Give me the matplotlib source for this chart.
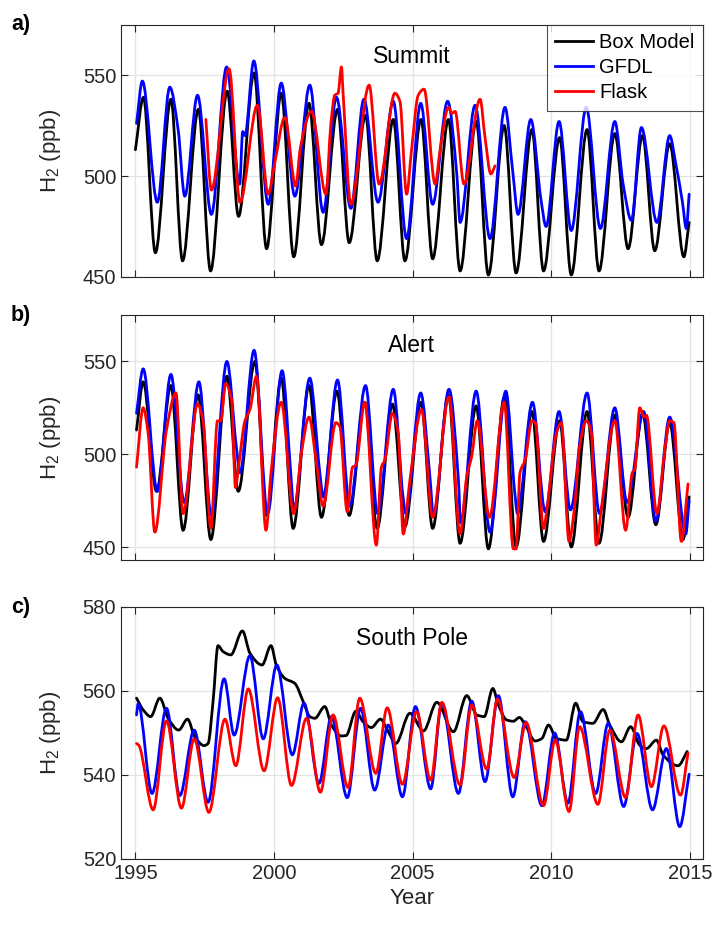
import matplotlib
matplotlib.use("Agg")
import matplotlib.pyplot as plt
from matplotlib.path import Path
from matplotlib.patches import PathPatch
from matplotlib.lines import Line2D
import numpy as np

plt.rcParams['font.family'] = ['Liberation Sans', 'DejaVu Sans']
plt.rcParams['mathtext.default'] = 'regular'

# ---------------- Summit ----------------
box_a_t = [1995.00, 1995.29, 1995.72, 1996.28, 1996.70, 1997.27, 1997.71, 1998.31, 1998.72, 1999.28,
           1999.73, 2000.26, 2000.71, 2001.26, 2001.71, 2002.29, 2002.71, 2003.30, 2003.72, 2004.30,
           2004.72, 2005.30, 2005.72, 2006.29, 2006.71, 2007.29, 2007.73, 2008.30, 2008.73, 2009.30,
           2009.72, 2010.30, 2010.72, 2011.29, 2011.72, 2012.29, 2012.77, 2013.29, 2013.73, 2014.27,
           2014.78, 2014.97]
box_a_v = [513, 539, 462, 538, 458, 533, 453, 542, 480, 551,
           464, 541, 460, 536, 466, 533, 467, 530, 458, 528,
           458, 528, 459, 528, 453, 527, 451, 525, 452, 523,
           453, 519, 451, 523, 453, 521, 464, 520, 463, 516,
           460, 477]

gfdl_a_t = [1995.04, 1995.25, 1995.79, 1996.24, 1996.54, 1996.78, 1997.24, 1997.74, 1998.29, 1998.76,
            1998.87, 1998.95, 1999.27, 1999.79, 2000.26, 2000.75, 2001.29, 2001.77, 2002.25, 2002.77,
            2003.24, 2003.75, 2004.30, 2004.78, 2005.29, 2005.72, 2006.26, 2006.59, 2006.71, 2007.25,
            2007.79, 2008.33, 2008.61, 2008.80, 2009.26, 2009.63, 2009.81, 2010.28, 2010.72, 2011.26,
            2011.77, 2012.29, 2012.59, 2012.89, 2013.25, 2013.81, 2014.27, 2014.49, 2014.73, 2014.87,
            2014.97]
gfdl_a_v = [526, 547, 487, 544, 523, 490, 540, 481, 554, 496,
            522, 520, 557, 486, 546, 490, 545, 482, 539, 484,
            538, 487, 537, 469, 536, 486, 537, 501, 477, 535,
            469, 534, 502, 481, 528, 488, 475, 527, 473, 534,
            474, 527, 496, 478, 524, 477, 520, 506, 487, 474,
            491]

flask_a_t = [1997.54, 1997.74, 1998.38, 1998.77, 1999.40, 1999.79, 2000.02, 2000.39, 2000.78, 2000.95,
             2001.35, 2001.87, 2002.05, 2002.19, 2002.31, 2002.43, 2002.49, 2002.77, 2003.43, 2003.79,
             2004.36, 2004.54, 2004.78, 2004.96, 2005.20, 2005.41, 2005.81, 2005.99, 2006.29, 2006.41,
             2006.53, 2006.85, 2007.43, 2007.61, 2007.82, 2007.97]
flask_a_v = [528, 493, 553, 487, 535, 491, 506, 529, 495, 514,
             532, 491, 526, 540, 541, 554, 541, 486, 545, 496,
             541, 537, 491, 513, 540, 543, 496, 513, 534, 531,
             532, 496, 538, 519, 501, 505]

# ---------------- Alert ----------------
box_b_t = [1995.04, 1995.28, 1995.76, 1996.28, 1996.72, 1997.26, 1997.72, 1998.30, 1998.71, 1999.31,
           1999.73, 2000.26, 2000.69, 2001.26, 2001.71, 2002.27, 2002.71, 2003.27, 2003.72, 2004.27,
           2004.72, 2005.30, 2005.72, 2006.29, 2006.71, 2007.29, 2007.73, 2008.31, 2008.73, 2009.30,
           2009.72, 2010.30, 2010.72, 2011.29, 2011.72, 2012.29, 2012.77, 2013.29, 2013.77, 2014.27,
           2014.75, 2014.97]
box_b_v = [513, 539, 480, 537, 459, 532, 454, 542, 480, 550,
           467, 541, 460, 537, 466, 534, 467, 528, 460, 527,
           461, 528, 460, 532, 452, 526, 449, 531, 450, 523,
           453, 518, 450, 523, 452, 521, 466, 522, 462, 517,
           454, 477]

gfdl_b_t = [1995.04, 1995.28, 1995.79, 1996.28, 1996.76, 1997.29, 1997.74, 1998.30, 1998.64, 1998.77,
            1999.28, 1999.77, 2000.29, 2000.62, 2000.71, 2001.29, 2001.65, 2001.77, 2002.29, 2002.73,
            2003.30, 2003.74, 2004.30, 2004.66, 2004.75, 2005.29, 2005.62, 2005.75, 2006.31, 2006.65,
            2006.73, 2007.29, 2007.79, 2008.36, 2008.69, 2008.78, 2009.32, 2009.78, 2010.28, 2010.69,
            2011.29, 2011.74, 2012.29, 2012.73, 2013.33, 2013.77, 2014.27, 2014.85, 2014.97]
gfdl_b_v = [522, 546, 480, 543, 474, 539, 467, 550, 504, 490,
            556, 468, 545, 486, 470, 541, 490, 477, 540, 472,
            537, 468, 535, 476, 468, 533, 488, 467, 535, 486,
            463, 534, 458, 534, 478, 468, 528, 469, 523, 470,
            533, 468, 525, 474, 523, 464, 520, 457, 475]

flask_b_t = [1995.04, 1995.28, 1995.46, 1995.70, 1996.12, 1996.46, 1996.72, 1997.24, 1997.44, 1997.72,
             1997.96, 1998.08, 1998.25, 1998.47, 1998.61, 1998.71, 1998.95, 1999.13, 1999.37, 1999.71,
             1999.89, 2000.26, 2000.71, 2000.99, 2001.26, 2001.53, 2001.77, 2002.23, 2002.37, 2002.64,
             2002.83, 2002.95, 2003.27, 2003.69, 2003.87, 2004.00, 2004.27, 2004.48, 2004.66, 2004.90,
             2005.32, 2005.72, 2006.31, 2006.71, 2006.95, 2007.13, 2007.33, 2007.77, 2008.30, 2008.63,
             2008.73, 2008.87, 2009.06, 2009.30, 2009.42, 2009.72, 2009.84, 2010.18, 2010.36, 2010.64,
             2010.84, 2011.02, 2011.26, 2011.44, 2011.62, 2011.80, 2012.29, 2012.68, 2012.92, 2013.01,
             2013.19, 2013.35, 2013.43, 2013.81, 2014.09, 2014.27, 2014.42, 2014.69, 2014.93]
flask_b_v = [493, 525, 511, 458, 513, 533, 468, 527, 518, 460,
             518, 518, 538, 529, 482, 492, 518, 524, 542, 459,
             490, 528, 468, 501, 520, 495, 472, 517, 515, 469,
             493, 494, 528, 451, 493, 497, 522, 511, 457, 486,
             524, 466, 531, 457, 488, 499, 518, 466, 528, 449,
             449, 490, 497, 518, 517, 460, 470, 511, 517, 453,
             472, 504, 518, 512, 451, 470, 518, 459, 490, 492,
             525, 520, 521, 468, 502, 518, 517, 453, 484]

# ---------------- South Pole ----------------
box_c_t = [1995.04, 1995.28, 1995.55, 1995.88, 1996.18, 1996.56, 1996.88, 1997.14, 1997.48, 1997.62,
           1997.80, 1997.98, 1998.16, 1998.44, 1998.86, 1999.13, 1999.57, 1999.89, 2000.08, 2000.39,
           2000.75, 2001.05, 2001.29, 2001.47, 2001.83, 2002.07, 2002.43, 2002.60, 2002.95, 2003.21,
           2003.51, 2003.84, 2004.12, 2004.39, 2004.90, 2005.39, 2005.87, 2006.47, 2006.95, 2007.31,
           2007.58, 2007.89, 2008.09, 2008.39, 2008.63, 2008.85, 2009.06, 2009.42, 2009.66, 2009.90,
           2010.18, 2010.54, 2010.88, 2011.14, 2011.50, 2011.87, 2012.11, 2012.53, 2012.86, 2013.19,
           2013.43, 2013.79, 2014.03, 2014.57, 2014.90]
box_c_v = [558.3, 555.5, 553.9, 558.3, 553.5, 550.7, 553.3, 549.1, 547.0, 547.5,
           557.5, 570.8, 569.4, 568.6, 574.3, 569.0, 566.2, 570.8, 566.2, 563.0,
           561.8, 557.5, 553.9, 553.5, 556.3, 551.9, 549.3, 549.4, 555.2, 552.7,
           551.3, 553.3, 550.3, 547.5, 554.7, 550.5, 557.3, 550.3, 558.9, 554.3,
           553.9, 560.6, 556.7, 553.1, 552.8, 553.7, 551.9, 548.1, 548.7, 551.9,
           548.7, 548.3, 557.1, 552.7, 552.3, 555.6, 551.9, 547.9, 551.5, 547.1,
           546.3, 548.3, 544.8, 542.2, 545.6]

gfdl_c_t = [1995.04, 1995.10, 1995.60, 1996.12, 1996.60, 1997.12, 1997.62, 1998.20, 1998.56, 1999.13,
            1999.61, 2000.10, 2000.66, 2001.08, 2001.62, 2002.07, 2002.64, 2003.12, 2003.63, 2004.12,
            2004.63, 2005.10, 2005.65, 2006.05, 2006.65, 2007.13, 2007.61, 2008.09, 2008.61, 2009.06,
            2009.66, 2010.12, 2010.60, 2011.05, 2011.60, 2012.05, 2012.61, 2013.09, 2013.65, 2014.15,
            2014.63, 2014.97]
gfdl_c_v = [554.3, 557.0, 535.6, 555.9, 535.1, 550.7, 533.5, 562.9, 549.5, 568.4,
            548.6, 566.2, 544.8, 557.1, 538.0, 553.9, 534.6, 555.9, 536.4, 551.9,
            534.8, 556.3, 536.7, 557.1, 535.6, 557.6, 538.4, 558.9, 534.8, 552.7,
            532.7, 550.0, 533.3, 555.1, 535.6, 552.3, 532.5, 549.9, 531.7, 546.3,
            527.7, 540.2]

flask_c_t = [1995.04, 1995.12, 1995.64, 1996.12, 1996.66, 1997.12, 1997.65, 1998.23, 1998.62, 1999.07,
             1999.64, 2000.13, 2000.63, 2001.17, 2001.67, 2002.13, 2002.67, 2003.09, 2003.67, 2004.08,
             2004.63, 2005.14, 2005.65, 2006.05, 2006.71, 2007.13, 2007.67, 2008.06, 2008.66, 2009.09,
             2009.72, 2010.14, 2010.64, 2011.02, 2011.68, 2012.11, 2012.68, 2013.13, 2013.61, 2014.06,
             2014.66, 2014.93]
flask_c_v = [547.5, 547.1, 531.7, 552.9, 532.1, 548.6, 531.1, 553.3, 542.2, 560.5,
             541.0, 558.4, 537.5, 553.5, 535.9, 554.3, 537.0, 558.3, 540.4, 556.0,
             537.8, 555.1, 538.8, 557.3, 537.6, 556.7, 541.4, 558.1, 539.4, 552.5,
             532.7, 548.3, 531.3, 551.5, 533.0, 550.7, 534.6, 554.3, 537.2, 551.7,
             535.2, 545.2]

site_names = ["Summit", "Alert", "South Pole"]
panel_tags = ["a)", "b)", "c)"]
series_names = ["Box Model", "GFDL", "Flask"]
year_ticks = [1995, 2000, 2005, 2010, 2015]
y_ticks = [[450, 500, 550], [450, 500, 550], [520, 540, 560, 580]]
y_limits = [(450, 575), (443, 575), (520, 580)]

panels = [
    [(box_a_t, box_a_v), (gfdl_a_t, gfdl_a_v), (flask_a_t, flask_a_v)],
    [(box_b_t, box_b_v), (gfdl_b_t, gfdl_b_v), (flask_b_t, flask_b_v)],
    [(box_c_t, box_c_v), (gfdl_c_t, gfdl_c_v), (flask_c_t, flask_c_v)],
]
colors = ["#000000", "#0000ff", "#ff0000"]


def smooth_path(t, v):
    """Cubic Bezier path through every (t, v) sample with shape-preserving
    (monotone) tangents, so the curve never overshoots the samples."""
    x = np.asarray(t, float)
    y = np.asarray(v, float)
    h = np.diff(x)
    d = np.diff(y) / h
    m = np.zeros_like(y)
    m[0], m[-1] = d[0], d[-1]
    for k in range(1, len(x) - 1):
        if d[k - 1] * d[k] > 0:
            w1 = 2 * h[k] + h[k - 1]
            w2 = h[k] + 2 * h[k - 1]
            m[k] = (w1 + w2) / (w1 / d[k - 1] + w2 / d[k])
    verts = [(x[0], y[0])]
    codes = [Path.MOVETO]
    for k in range(len(x) - 1):
        verts += [(x[k] + h[k] / 3, y[k] + m[k] * h[k] / 3),
                  (x[k + 1] - h[k] / 3, y[k + 1] - m[k + 1] * h[k] / 3),
                  (x[k + 1], y[k + 1])]
        codes += [Path.CURVE4] * 3
    return Path(verts, codes)


W, H = 717, 926
fig = plt.figure(figsize=(W / 100, H / 100), dpi=100)

# axes boxes in pixels: (left, top, right, bottom)
boxes = [(121, 24.5, 702.7, 277), (121, 315, 702.7, 560), (121, 607, 702.7, 859)]

axes = []
for i, (l, t, r, b) in enumerate(boxes):
    ax = fig.add_axes([l / W, (H - b) / H, (r - l) / W, (b - t) / H])
    for (tt, vv), c in zip(panels[i], colors):
        ax.add_patch(PathPatch(smooth_path(tt, vv), facecolor="none", edgecolor=c,
                               lw=2.0, joinstyle="round", capstyle="round"))
    ax.set_xlim(1994.48, 2015.46)
    ax.set_ylim(*y_limits[i])
    ax.set_xticks(year_ticks)
    ax.set_yticks(y_ticks[i])
    ax.grid(True, color="#e3e3e3", lw=0.9)
    ax.set_axisbelow(True)
    ax.tick_params(direction="in", length=5, width=0.8, top=True, right=True,
                   labelsize=14.5, colors="#262626")
    for s in ax.spines.values():
        s.set_color("#262626")
        s.set_linewidth(0.8)
    if i < 2:
        ax.tick_params(labelbottom=False)
    ax.set_ylabel("H$_2$ (ppb)", fontsize=16, color="#262626", labelpad=14)
    ax.text(0.5, 0.875, site_names[i], transform=ax.transAxes, ha="center", va="center",
            fontsize=16.5, color="#000000")
    fig.text(11 / W, (H - t) / H, panel_tags[i], ha="left", va="center",
             fontsize=15.5, fontweight="bold")
    axes.append(ax)

axes[2].set_xlabel("Year", fontsize=16, color="#262626")

handles = [Line2D([], [], color=c, lw=2.0) for c in colors]
leg = axes[0].legend(handles, series_names, loc="upper right", borderaxespad=0,
                     fontsize=14.5, frameon=True, fancybox=False, handlelength=1.9,
                     handletextpad=0.3, labelspacing=0.32, borderpad=0.4)
leg.get_frame().set_edgecolor("#262626")
leg.get_frame().set_linewidth(0.8)

fig.savefig("out.png", dpi=100)
